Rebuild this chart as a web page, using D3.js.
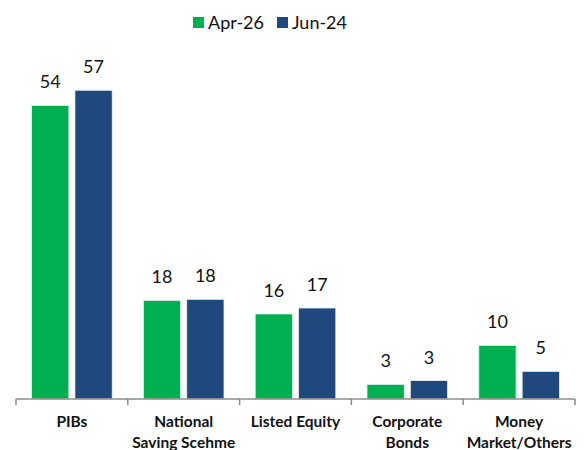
<!DOCTYPE html>
<html>
<head>
<meta charset="utf-8">
<script src="https://cdn.jsdelivr.net/npm/d3@7"></script>
<style>
  body { margin: 0; background: #fff; }
  svg { display: block; font-family: Lato, "Open Sans", sans-serif; }
</style>
</head>
<body>
<svg width="584" height="450"></svg>
<script>
  // data
  const categories = ['PIBs', 'National\nSaving Scehme', 'Listed Equity', 'Corporate\nBonds', 'Money\nMarket/Others'];
  const seriesNames = ['Apr-26', 'Jun-24'];
  const apr26 = [54.2, 18.2, 15.7, 2.7, 9.9];
  const jun24 = [57.0, 18.4, 16.8, 3.4, 5.1];
  const colors = ['#00b050', '#1f497d'];

  const svg = d3.select('svg');
  const margin = { top: 74, left: 16, right: 9, bottom: 51 };
  const width = +svg.attr('width');
  const height = +svg.attr('height');

  const xScale = d3.scaleBand()
    .domain(categories)
    .range([margin.left, width - margin.right])
    .paddingInner(0)
    .paddingOuter(0);

  const xInner = d3.scaleBand()
    .domain(seriesNames)
    .range([0, xScale.bandwidth()])
    .paddingInner(0.14)
    .paddingOuter(0.36);

  const yScale = d3.scaleLinear()
    .domain([0, 60])
    .range([height - margin.bottom, margin.top]);

  const rows = categories.map((c, i) => ({ cat: c, vals: [apr26[i], jun24[i]] }));

  const groups = svg.selectAll('.group').data(rows)
    .enter().append('g')
      .attr('class', 'group')
      .attr('transform', d => `translate(${xScale(d.cat)},0)`);

  groups.selectAll('rect')
    .data(d => d.vals.map((v, j) => ({ name: seriesNames[j], v, j })))
    .enter().append('rect')
      .attr('x', d => xInner(d.name))
      .attr('y', d => yScale(d.v))
      .attr('width', xInner.bandwidth())
      .attr('height', d => yScale(0) - yScale(d.v))
      .attr('fill', d => colors[d.j])
      .attr('stroke', '#e8eef5')
      .attr('stroke-width', 0.8);

  groups.selectAll('.val')
    .data(d => d.vals.map((v, j) => ({ name: seriesNames[j], v, j })))
    .enter().append('text')
      .attr('class', 'val')
      .attr('x', d => xInner(d.name) + xInner.bandwidth() / 2)
      .attr('y', d => yScale(d.v) - 17)
      .attr('text-anchor', 'middle')
      .style('font-size', '18px')
      .style('fill', '#111')
      .text(d => d3.format('.0f')(d.v));

  // x axis
  const xAxisG = svg.append('g')
    .attr('transform', `translate(0,${yScale(0)})`);
  xAxisG.append('line')
    .attr('x1', xScale.range()[0]).attr('x2', xScale.range()[1])
    .attr('y1', 0).attr('y2', 0)
    .attr('stroke', '#8c8c8c').attr('stroke-width', 1.5);
  const tickXs = categories.map(c => xScale(c)).concat([xScale.range()[1]]);
  xAxisG.selectAll('.tick').data(tickXs)
    .enter().append('line')
      .attr('x1', d => d).attr('x2', d => d)
      .attr('y1', 0).attr('y2', 6)
      .attr('stroke', '#8c8c8c').attr('stroke-width', 1.5);

  const labels = xAxisG.selectAll('.cat').data(categories)
    .enter().append('text')
      .attr('class', 'cat')
      .attr('x', d => xScale(d) + xScale.bandwidth() / 2)
      .attr('y', 28)
      .attr('text-anchor', 'middle')
      .style('font-size', '15.5px')
      .style('font-weight', 'bold')
      .style('fill', '#111');
  labels.selectAll('tspan')
    .data(d => d.split('\n'))
    .enter().append('tspan')
      .attr('x', function() { return d3.select(this.parentNode).attr('x'); })
      .attr('dy', (d, i) => i === 0 ? 0 : 21)
      .text(d => d);

  // legend
  const legendX = [193, 277];
  const legend = svg.selectAll('.legend').data(seriesNames)
    .enter().append('g')
      .attr('class', 'legend')
      .attr('transform', (d, i) => `translate(${legendX[i]},17)`);
  legend.append('rect')
    .attr('width', 11).attr('height', 11)
    .attr('fill', (d, i) => colors[i]);
  legend.append('text')
    .attr('x', 15).attr('y', 11.5)
    .style('font-size', '18px')
    .style('fill', '#111')
    .text(d => d);
</script>
</body>
</html>
